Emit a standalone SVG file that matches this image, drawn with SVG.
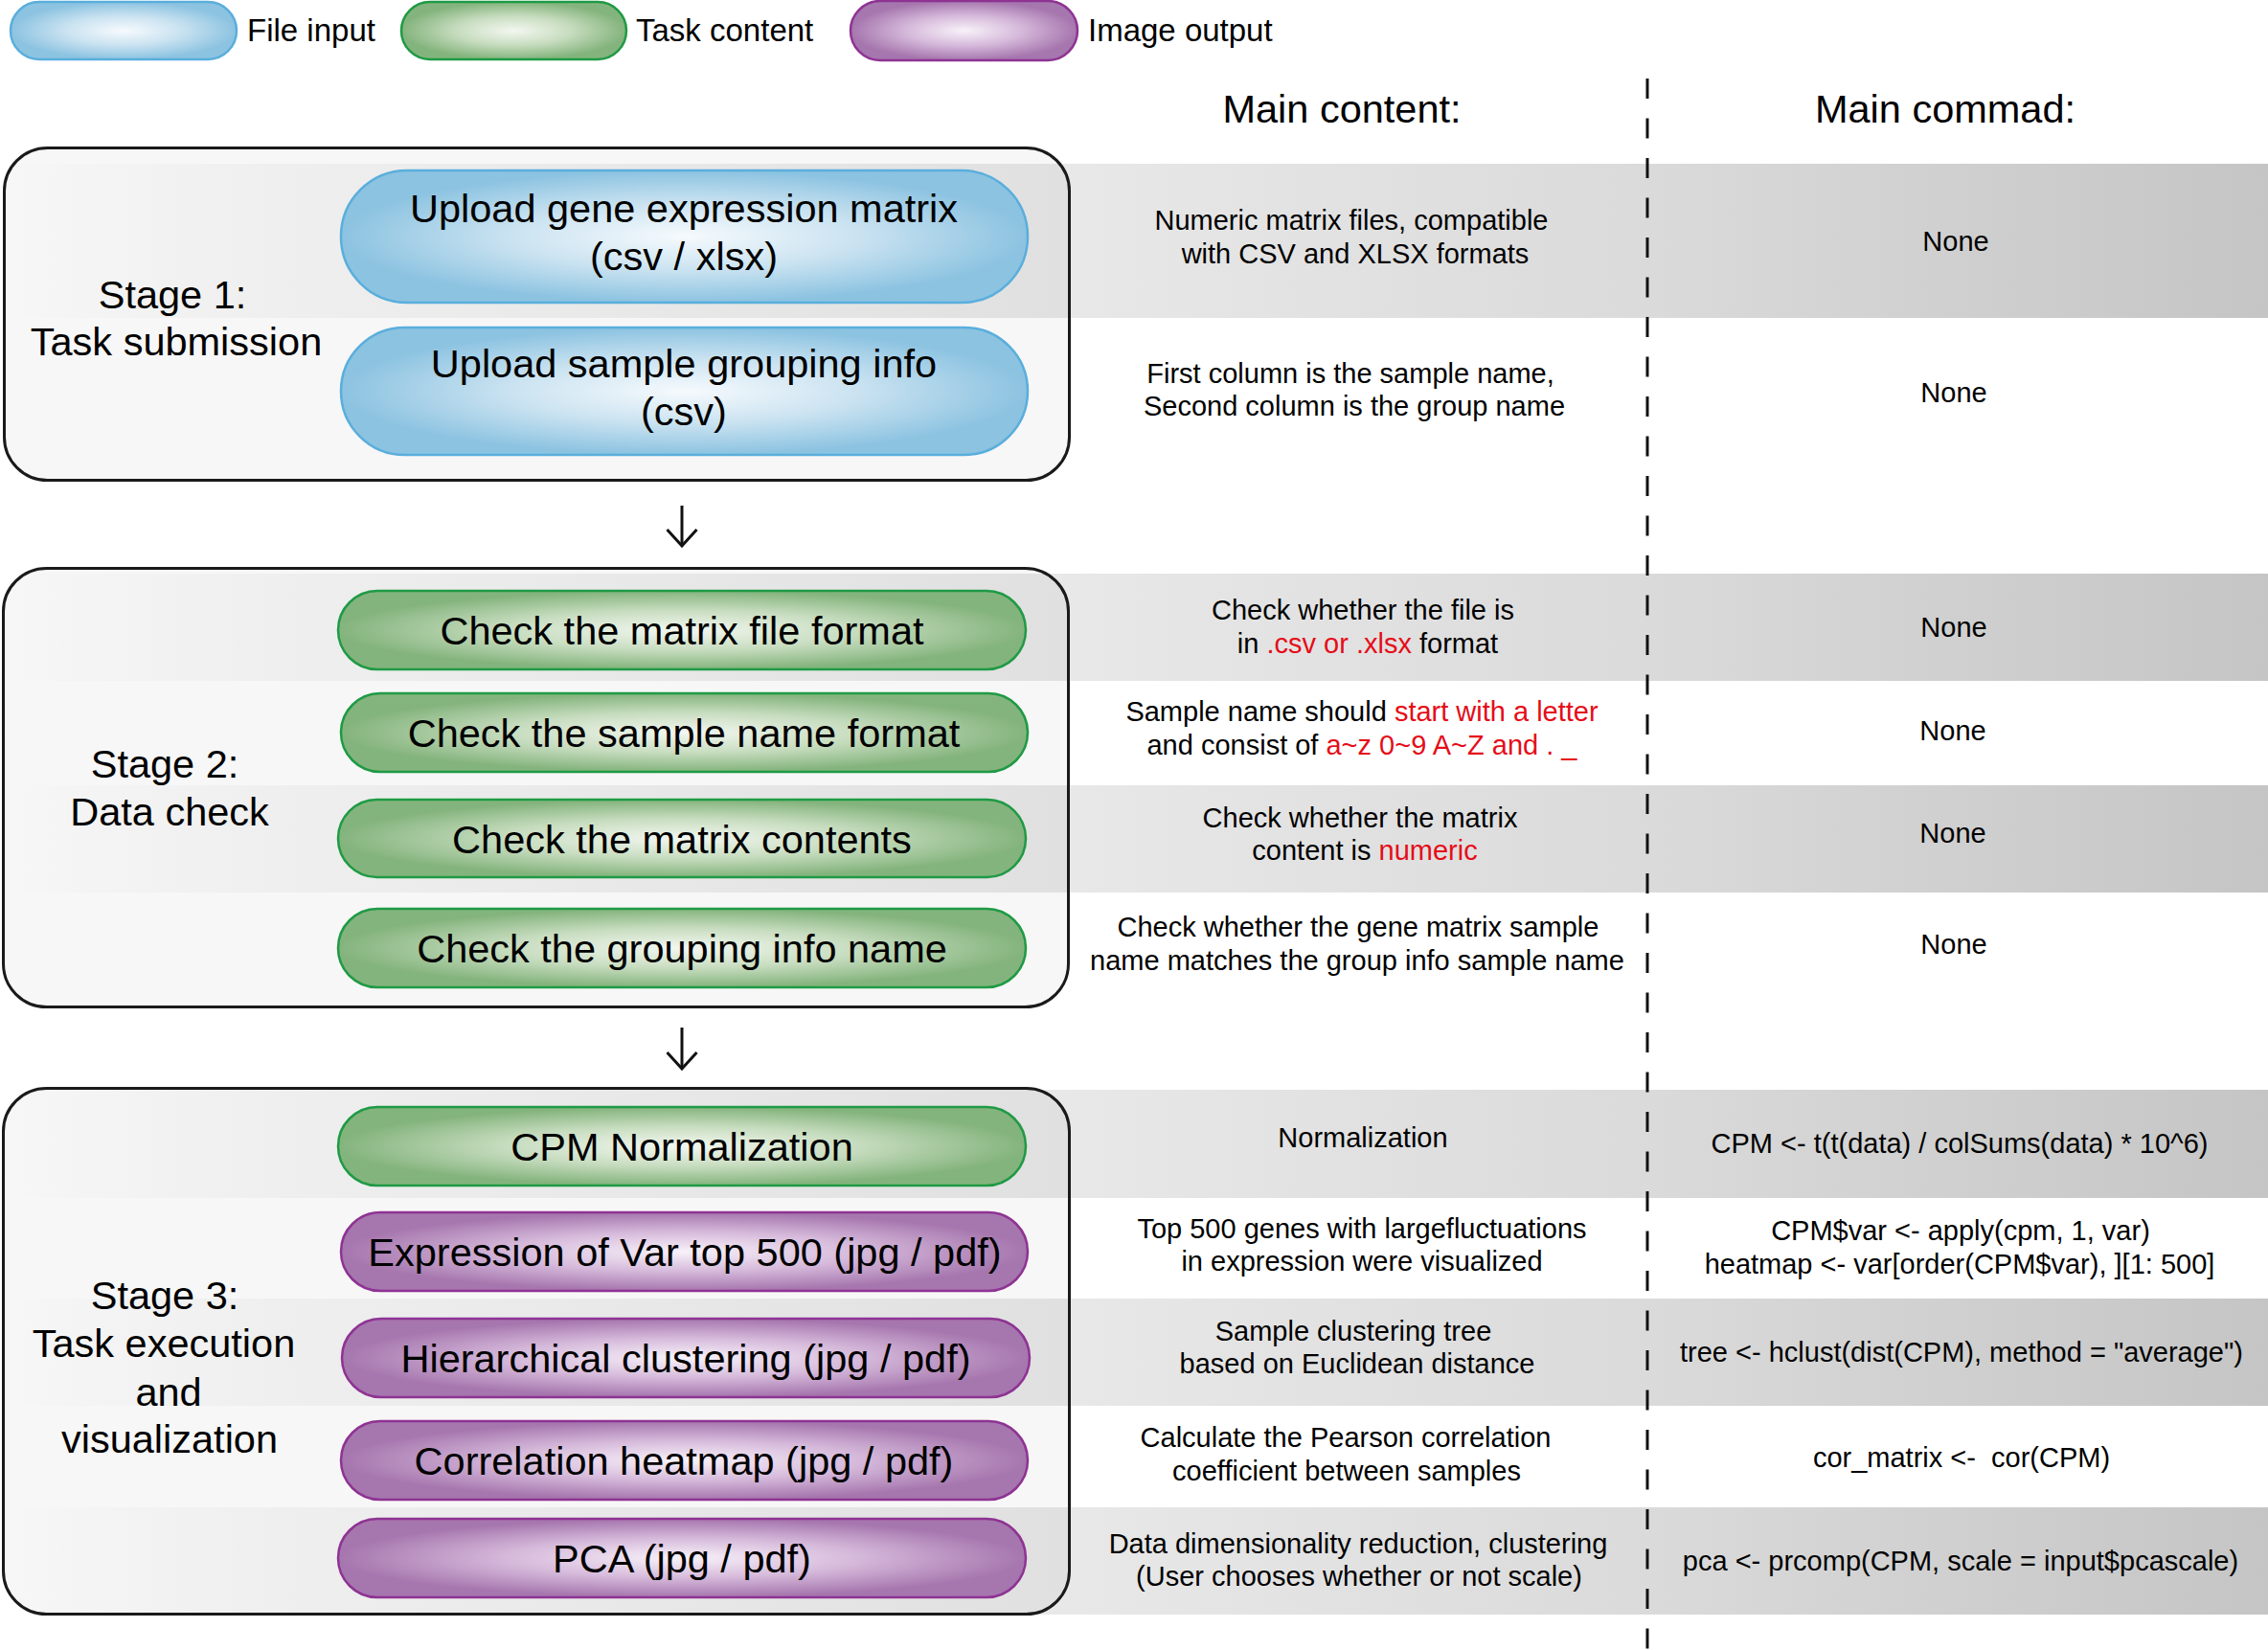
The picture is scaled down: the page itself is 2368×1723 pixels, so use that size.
<svg xmlns="http://www.w3.org/2000/svg" width="2368" height="1723" viewBox="0 0 2368 1723">
<defs>
<style>
text{font-family:"Liberation Sans",Arial,sans-serif;fill:#000}
.big{font-size:41.5px;text-anchor:middle}
.leg{font-size:33px}
.sm{font-size:29px;text-anchor:middle}
.red{fill:#e50d18}
.box{fill:#000;fill-opacity:0.03;stroke:#1a1a1a;stroke-width:3}
.blue{fill:url(#gBlue);stroke:#5aaedc;stroke-width:2.5}
.green{fill:url(#gGreen);stroke:#1f9a45;stroke-width:2.5}
.purple{fill:url(#gPurple);stroke:#8e3393;stroke-width:2.5}
.band{fill:url(#band)}
.arrow{stroke:#111;stroke-width:3;fill:none;marker-end:url(#vhead)}
</style>
<radialGradient id="gBlue" cx="0.5" cy="0.5" r="0.5">
<stop offset="0" stop-color="#f6fafd"/>
<stop offset="0.5" stop-color="#cbe3f1"/>
<stop offset="1" stop-color="#8cc3e1"/>
</radialGradient>
<radialGradient id="gGreen" cx="0.5" cy="0.5" r="0.5">
<stop offset="0" stop-color="#f3f7f0"/>
<stop offset="0.5" stop-color="#c8ddc0"/>
<stop offset="1" stop-color="#84b47d"/>
</radialGradient>
<radialGradient id="gPurple" cx="0.5" cy="0.5" r="0.5">
<stop offset="0" stop-color="#f8f2f9"/>
<stop offset="0.5" stop-color="#d6badb"/>
<stop offset="1" stop-color="#a676ae"/>
</radialGradient>
<linearGradient id="band" gradientUnits="userSpaceOnUse" x1="0" y1="0" x2="2368" y2="0">
<stop offset="0" stop-color="#ffffff"/>
<stop offset="0.04" stop-color="#fcfcfc"/>
<stop offset="0.12" stop-color="#f7f7f7"/>
<stop offset="0.47" stop-color="#e8e8e8"/>
<stop offset="0.73" stop-color="#dadada"/>
<stop offset="0.83" stop-color="#d2d2d2"/>
<stop offset="1" stop-color="#c5c5c5"/>
</linearGradient>
<marker id="vhead" markerUnits="userSpaceOnUse" viewBox="0 0 20 34" refX="18" refY="17" markerWidth="20" markerHeight="34" orient="auto">
<path d="M1,1.5 L18,17 L1,32.5" fill="none" stroke="#111" stroke-width="3"/>
</marker>
</defs>
<rect width="2368" height="1723" fill="#fff"/>

<g id="legend">
<g id="legend-file-input">
<rect x="11" y="2" width="236" height="60" rx="30" class="blue"/>
<text x="258" y="43" class="leg">File input</text>
</g>
<g id="legend-task-content">
<rect x="419" y="2" width="235" height="60" rx="30" class="green"/>
<text x="664" y="43" class="leg">Task content</text>
</g>
<g id="legend-image-output">
<rect x="888" y="1" width="237" height="62" rx="31" class="purple"/>
<text x="1136" y="43" class="leg">Image output</text>
</g>
</g>

<g id="headers">
<text x="1401" y="128" class="big">Main content:</text>
<text x="2031" y="128" class="big">Main commad:</text>
</g>

<g id="bands">
<rect x="5" y="171" width="2363" height="161" class="band"/>
<rect x="5" y="599" width="2363" height="112" class="band"/>
<rect x="5" y="820" width="2363" height="112" class="band"/>
<rect x="5" y="1138" width="2363" height="113" class="band"/>
<rect x="5" y="1356" width="2363" height="112" class="band"/>
<rect x="5" y="1574" width="2363" height="112" class="band"/>
</g>

<g id="divider">
<line x1="1720" y1="82" x2="1720" y2="1723" stroke="#111" stroke-width="3" stroke-dasharray="21 20.5"/>
</g>

<g id="stage1">
<rect x="4.5" y="154.5" width="1112" height="347" rx="45" class="box"/>
<text x="180" y="322" class="big">Stage 1:</text>
<text x="184" y="371" class="big">Task submission</text>
</g>
<g id="upload-matrix">
<rect x="356" y="178" width="717" height="138" rx="69" class="blue"/>
<text x="714" y="232" class="big">Upload gene expression matrix</text>
<text x="714" y="282" class="big">(csv / xlsx)</text>
</g>
<g id="upload-grouping">
<rect x="356" y="342" width="717" height="133" rx="66.5" class="blue"/>
<text x="714" y="394" class="big">Upload sample grouping info</text>
<text x="714" y="444" class="big">(csv)</text>
</g>

<g id="stage2">
<rect x="3.5" y="593.5" width="1112" height="458" rx="45" class="box"/>
<text x="172" y="812" class="big">Stage 2:</text>
<text x="177" y="862" class="big">Data check</text>
</g>
<g id="check-file-format">
<rect x="353" y="617" width="718" height="82" rx="41" class="green"/>
<text x="712" y="673" class="big">Check the matrix file format</text>
</g>
<g id="check-sample-name">
<rect x="356" y="724" width="717" height="82" rx="41" class="green"/>
<text x="714" y="780" class="big">Check the sample name format</text>
</g>
<g id="check-matrix-contents">
<rect x="353" y="835" width="718" height="81" rx="40.5" class="green"/>
<text x="712" y="891" class="big">Check the matrix contents</text>
</g>
<g id="check-grouping-name">
<rect x="353" y="949" width="718" height="82" rx="41" class="green"/>
<text x="712" y="1005" class="big">Check the grouping info name</text>
</g>

<g id="stage3">
<rect x="3.5" y="1136.5" width="1113" height="549" rx="45" class="box"/>
<text x="172" y="1367" class="big">Stage 3:</text>
<text x="171" y="1417" class="big">Task execution</text>
<text x="176" y="1468" class="big">and</text>
<text x="177" y="1517" class="big">visualization</text>
</g>
<g id="cpm-normalization">
<rect x="353" y="1156" width="718" height="82" rx="41" class="green"/>
<text x="712" y="1212" class="big">CPM Normalization</text>
</g>
<g id="var-top500">
<rect x="356" y="1266" width="717" height="82" rx="41" class="purple"/>
<text x="715" y="1322" class="big">Expression of Var top 500 (jpg / pdf)</text>
</g>
<g id="hclust">
<rect x="357" y="1377" width="718" height="82" rx="41" class="purple"/>
<text x="716" y="1433" class="big">Hierarchical clustering (jpg / pdf)</text>
</g>
<g id="corr-heatmap">
<rect x="356" y="1484" width="717" height="82" rx="41" class="purple"/>
<text x="714" y="1540" class="big">Correlation heatmap (jpg / pdf)</text>
</g>
<g id="pca">
<rect x="353" y="1586" width="718" height="82" rx="41" class="purple"/>
<text x="712" y="1642" class="big">PCA (jpg / pdf)</text>
</g>

<g id="connectors">
<line x1="712" y1="528" x2="712" y2="570" class="arrow"/>
<line x1="712" y1="1073" x2="712" y2="1116" class="arrow"/>
</g>

<g id="content-column">
<text x="1411" y="240" class="sm">Numeric matrix files, compatible</text>
<text x="1415" y="275" class="sm">with CSV and XLSX formats</text>
<text x="1410" y="400" class="sm">First column is the sample name,</text>
<text x="1414" y="434" class="sm">Second column is the group name</text>
<text x="1423" y="647" class="sm">Check whether the file is</text>
<text x="1428" y="682" class="sm">in <tspan class="red">.csv or .xlsx</tspan> format</text>
<text x="1422" y="753" class="sm">Sample name should <tspan class="red">start with a letter</tspan></text>
<text x="1422" y="788" class="sm">and consist of <tspan class="red">a~z 0~9 A~Z and . _</tspan></text>
<text x="1420" y="864" class="sm">Check whether the matrix</text>
<text x="1425" y="898" class="sm">content is <tspan class="red">numeric</tspan></text>
<text x="1418" y="978" class="sm">Check whether the gene matrix sample</text>
<text x="1417" y="1013" class="sm">name matches the group info sample name</text>
<text x="1423" y="1198" class="sm">Normalization</text>
<text x="1422" y="1293" class="sm">Top 500 genes with largefluctuations</text>
<text x="1422" y="1327" class="sm">in expression were visualized</text>
<text x="1413" y="1400" class="sm">Sample clustering tree</text>
<text x="1417" y="1434" class="sm">based on Euclidean distance</text>
<text x="1405" y="1511" class="sm">Calculate the Pearson correlation</text>
<text x="1406" y="1546" class="sm">coefficient between samples</text>
<text x="1418" y="1622" class="sm">Data dimensionality reduction, clustering</text>
<text x="1419" y="1656" class="sm">(User chooses whether or not scale)</text>
</g>

<g id="command-column">
<text x="2042" y="262" class="sm">None</text>
<text x="2040" y="420" class="sm">None</text>
<text x="2040" y="665" class="sm">None</text>
<text x="2039" y="773" class="sm">None</text>
<text x="2039" y="880" class="sm">None</text>
<text x="2040" y="996" class="sm">None</text>
<text x="2046" y="1204" class="sm">CPM &lt;- t(t(data) / colSums(data) * 10^6)</text>
<text x="2047" y="1295" class="sm">CPM$var &lt;- apply(cpm, 1, var)</text>
<text x="2046" y="1330" class="sm">heatmap &lt;- var[order(CPM$var), ][1: 500]</text>
<text x="2048" y="1422" class="sm">tree &lt;- hclust(dist(CPM), method = "average")</text>
<text x="2048" y="1532" class="sm" xml:space="preserve">cor_matrix &lt;-  cor(CPM)</text>
<text x="2047" y="1640" class="sm">pca &lt;- prcomp(CPM, scale = input$pcascale)</text>
</g>
</svg>
